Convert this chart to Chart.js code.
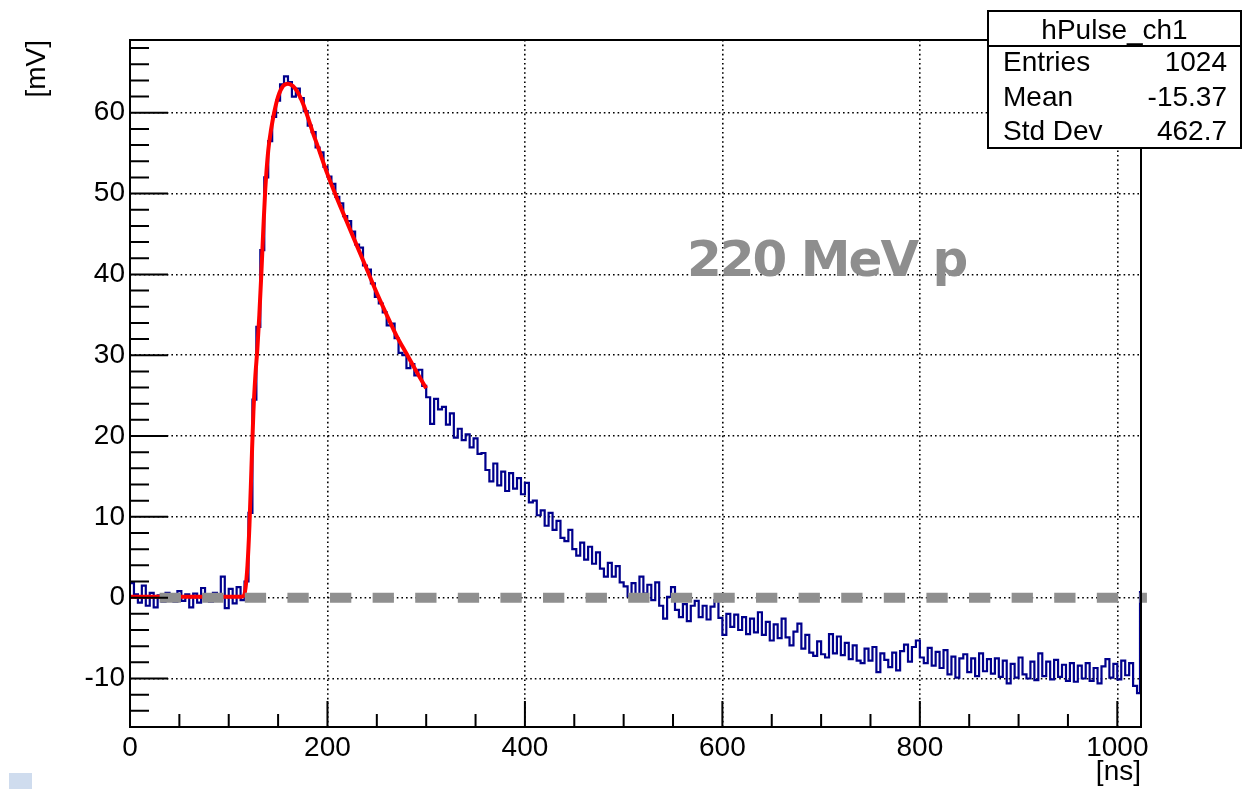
<!DOCTYPE html>
<html>
<head>
<meta charset="utf-8">
<title>hPulse_ch1</title>
<script src="https://cdn.jsdelivr.net/npm/chart.js@4.4.1/dist/chart.umd.min.js"></script>
<style>
  html, body { margin: 0; padding: 0; background: #fff; }
  #wrap { width: 1247px; height: 789px; position: relative; }
</style>
</head>
<body>
<div id="wrap"><canvas id="pulseChart" width="1247" height="789"></canvas></div>
<script>
// Pulse histogram, 4 ns bins from 0 ns, values in mV
const binWidth = 4;
const pulseMv = [
  // 0 - 112 ns : baseline
  1.8, 0.4, -0.6, 1.5, -1.0, 0.6, -1.2, 0.3, -0.5, 0.6,
  0.3, -0.5, 0.8, -0.4, 0.4, -1.2, 0.5, -0.6, 1.2, 0.0,
  -0.5, 0.6, -0.2, 2.6, -1.3, 1.1, -0.7, 1.3, -0.3,
  // 116 - 296 ns : rise and peak
  2.0, 10.5, 24.5, 33.5, 43.0, 52.0, 56.5, 59.5, 61.5, 63.5,
  64.5, 63.8, 62.0, 63.0, 61.8, 60.2, 58.4, 57.6, 55.7, 55.1,
  53.3, 52.1, 51.2, 49.6, 48.8, 47.2, 46.6, 45.3, 43.7, 43.3,
  41.1, 40.6, 38.9, 37.2, 36.4, 35.3, 33.7, 33.9, 32.1, 30.3,
  30.0, 28.4, 28.9, 27.5, 28.2, 26.2,
  // 300 - 500 ns
  24.8, 21.5, 24.6, 23.3, 23.6, 21.4, 22.8, 19.8, 20.9, 19.5,
  20.2, 18.6, 19.7, 17.8, 17.9, 15.8, 14.4, 16.6, 13.9, 15.6,
  13.2, 15.4, 13.5, 14.8, 12.8, 14.2, 11.8, 12.0, 10.2, 10.8,
  8.9, 10.5, 8.4, 9.5, 7.4, 7.0, 8.4, 6.0, 5.2, 6.8,
  4.7, 6.3, 4.2, 5.6, 3.6, 2.6, 4.3, 2.6, 3.9, 1.9,
  1.4,
  // 504 - 1020 ns : undershoot tail
  0.2, 1.8, -0.2, 2.6, 0.5, 1.6, -0.3, 1.9, -1.0, -2.6,
  0.1, 1.3, -1.5, -2.4, -0.8, -2.9, -1.0, -0.4, -2.4, -1.0,
  -2.7, -1.1, -0.3, -2.5, -4.6, -2.0, -3.6, -2.1, -4.0, -2.4,
  -4.5, -2.6, -4.3, -1.8, -4.6, -3.0, -5.3, -3.3, -5.0, -2.6,
  -4.9, -5.9, -4.2, -3.2, -6.3, -4.6, -6.8, -7.2, -5.4, -7.0,
  -7.4, -4.5, -6.9, -4.8, -7.1, -5.6, -7.6, -5.9, -7.8, -8.1,
  -6.3, -7.8, -6.1, -9.2, -6.9, -7.7, -8.6, -6.8, -9.0, -6.6,
  -5.8, -7.9, -6.1, -5.3, -7.4, -8.1, -6.2, -8.4, -6.7, -8.7,
  -6.5, -9.5, -7.3, -9.9, -7.5, -7.0, -9.2, -7.5, -9.7, -6.9,
  -9.1, -7.6, -9.4, -7.5, -9.8, -7.8, -10.6, -8.2, -9.9, -7.4,
  -9.5, -10.0, -7.9, -10.2, -6.9, -9.7, -7.9, -10.1, -7.7, -9.8,
  -8.3, -10.3, -8.1, -10.4, -8.4, -10.0, -8.1, -10.3, -8.7, -10.6,
  -8.5, -7.6, -9.9, -8.2, -10.1, -7.8, -9.6, -8.1, -10.9, -11.8
];
const lastBinNs = 1023;   // final 1 ns bin
const lastBinMv = 0.7;

// Fit (red)
const fitNs = [0, 20, 40, 60, 80, 100, 112,
  115, 117, 119, 121, 123, 125, 127, 129, 131, 133, 135, 137,
  140, 143, 146, 150, 155, 160, 165, 170, 175, 180, 185, 190,
  200, 210, 220, 230, 240, 250, 260, 270, 280, 290, 300];
const fitMv = [0.1, 0.1, 0.1, 0.1, 0.1, 0.1, 0.1,
  0.2, 1.2, 4, 9, 16, 23, 27.5, 30.8, 35, 40, 45.5, 50.5,
  55.3, 58, 60, 62, 63.3, 63.6, 63.3, 62.5, 61.2, 59.5, 57.6, 55.9,
  52.4, 49.3, 46.4, 43.5, 40.6, 37.7, 35, 32.4, 30.2, 28, 25.9];

// grey dashed zero line
const baseNs = [30, 1030];
const baseMv = [0, 0];

// axes
const xMajor = [0, 200, 400, 600, 800, 1000];
const xMinor = [50, 100, 150, 250, 300, 350, 450, 500, 550, 650, 700, 750, 850, 900, 950];
const yMajor = [-10, 0, 10, 20, 30, 40, 50, 60];
const yMinor = [-14, -12, -8, -6, -4, -2, 2, 4, 6, 8, 12, 14, 16, 18, 22, 24, 26, 28,
  32, 34, 36, 38, 42, 44, 46, 48, 52, 54, 56, 58, 62, 64, 66, 68];

const statsTitle = 'hPulse_ch1';
const statsNames = ['Entries', 'Mean', 'Std Dev'];
const statsValues = ['1024', '-15.37', '462.7'];
const beamLabel = '220 MeV p';

const textFont = { family: '"Liberation Sans", Arial, sans-serif', size: 28 };

const histPoints = pulseMv.map((v, i) => ({ x: i * binWidth, y: v }));
histPoints.push({ x: lastBinNs, y: lastBinMv });
histPoints.push({ x: 1024, y: lastBinMv });

// ROOT-like frame, inward ticks, stats box and label
const rootDecor = {
  id: 'rootDecor',
  afterDatasetsDraw(chart) {
    const ctx = chart.ctx;
    const xs = chart.scales.x, ys = chart.scales.y;
    const { left, right, top, bottom } = chart.chartArea;
    ctx.save();

    // beam label
    ctx.fillStyle = '#8e8e8e';
    ctx.font = 'bold 50px "DejaVu Sans", sans-serif';
    ctx.letterSpacing = '-2px';
    ctx.textBaseline = 'alphabetic';
    ctx.textAlign = 'left';
    ctx.fillText(beamLabel, 687, 276);
    ctx.letterSpacing = '0px';

    // ticks
    ctx.strokeStyle = '#000';
    ctx.lineWidth = 2;
    ctx.beginPath();
    xMajor.forEach(v => { const p = xs.getPixelForValue(v); ctx.moveTo(p, bottom); ctx.lineTo(p, bottom - 26); });
    xMinor.forEach(v => { const p = xs.getPixelForValue(v); ctx.moveTo(p, bottom); ctx.lineTo(p, bottom - 13); });
    yMajor.forEach(v => { const p = ys.getPixelForValue(v); ctx.moveTo(left, p); ctx.lineTo(left + 38, p); });
    yMinor.forEach(v => { const p = ys.getPixelForValue(v); ctx.moveTo(left, p); ctx.lineTo(left + 19, p); });
    ctx.stroke();
    ctx.strokeRect(left, top, right - left, bottom - top);
    ctx.restore();
  },
  afterDraw(chart) {
    const ctx = chart.ctx;
    ctx.save();
    // stats box
    const bx = 988, by = 11, bw = 253, bh = 137;
    ctx.fillStyle = '#fff';
    ctx.fillRect(bx, by, bw, bh);
    ctx.strokeStyle = '#000';
    ctx.lineWidth = 2;
    ctx.strokeRect(bx, by, bw, bh);
    ctx.beginPath();
    ctx.moveTo(bx, 46); ctx.lineTo(bx + bw, 46);
    ctx.stroke();
    ctx.fillStyle = '#000';
    ctx.font = '28px "Liberation Sans", Arial, sans-serif';
    ctx.textBaseline = 'alphabetic';
    ctx.textAlign = 'center';
    ctx.fillText(statsTitle, bx + bw / 2, 39);
    const rowY = [71, 106, 140];
    statsNames.forEach((name, i) => {
      ctx.textAlign = 'left';
      ctx.fillText(name, 1003, rowY[i]);
      ctx.textAlign = 'right';
      ctx.fillText(statsValues[i], 1227, rowY[i]);
    });
    // slide corner mark
    ctx.fillStyle = '#cfdcee';
    ctx.fillRect(9, 773, 23, 16);
    ctx.restore();
  }
};

const gridOpts = { color: '#000', lineWidth: 1.6, drawTicks: false };
const borderOpts = { display: false, dash: [1.6, 3] };

new Chart(document.getElementById('pulseChart'), {
  type: 'line',
  data: {
    datasets: [
      {
        label: 'baseline',
        data: baseNs.map((x, i) => ({ x: x, y: baseMv[i] })),
        borderColor: '#8f8f8f',
        borderWidth: 10,
        borderDash: [21.3, 21.3],
        borderCapStyle: 'butt',
        pointRadius: 0,
        clip: false
      },
      {
        label: 'fit',
        data: fitNs.map((x, i) => ({ x: x, y: fitMv[i] })),
        borderColor: '#ff0000',
        borderWidth: 4,
        cubicInterpolationMode: 'monotone',
        pointRadius: 0
      },
      {
        label: 'hPulse_ch1',
        data: histPoints,
        borderColor: '#00008c',
        borderWidth: 2.2,
        stepped: 'before',
        pointRadius: 0
      }
    ]
  },
  options: {
    responsive: false,
    animation: false,
    devicePixelRatio: 1,
    layout: { padding: { top: 40, right: 106, bottom: 0, left: 0 } },
    plugins: { legend: { display: false }, tooltip: { enabled: false } },
    scales: {
      x: {
        type: 'linear', min: 0, max: 1024,
        afterBuildTicks: s => { s.ticks = xMajor.map(v => ({ value: v })); },
        afterFit: s => { s.height = 62; },
        grid: gridOpts,
        border: borderOpts,
        ticks: { color: '#000', font: textFont, padding: 4.5, maxRotation: 0, autoSkip: false, callback: v => String(v) },
        title: { display: true, text: '[ns]', align: 'end', color: '#000', font: textFont, padding: 0 }
      },
      y: {
        type: 'linear', min: -16, max: 69,
        afterBuildTicks: s => { s.ticks = yMajor.map(v => ({ value: v })); },
        afterFit: s => { s.width = 130; },
        grid: gridOpts,
        border: borderOpts,
        ticks: { color: '#000', font: textFont, padding: 5, autoSkip: false, callback: v => String(v) },
        title: { display: true, text: '[mV]', align: 'end', color: '#000', font: textFont, padding: { top: 20, bottom: 0 } }
      }
    }
  },
  plugins: [rootDecor]
});
</script>
</body>
</html>
